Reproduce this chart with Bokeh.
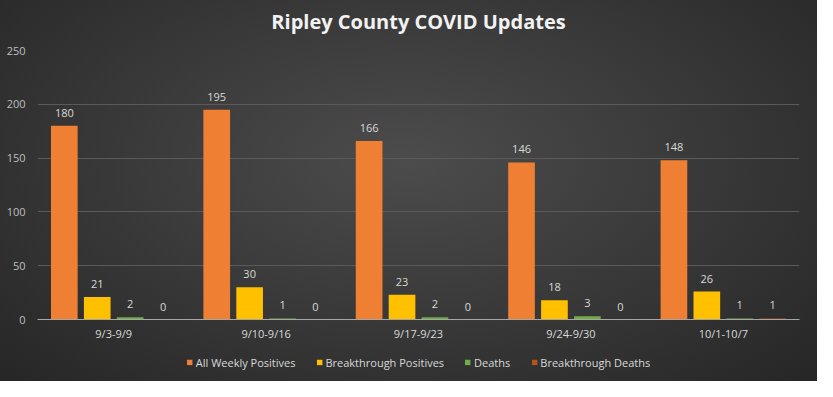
from bokeh.plotting import figure
from bokeh.models import FactorRange, Legend, LegendItem, ColumnDataSource, Range1d, FixedTicker
from bokeh.layouts import column
from bokeh.transform import dodge
from bokeh.core.properties import value
from bokeh.embed import file_html
from bokeh.resources import INLINE

chart_title = "Ripley County COVID Updates"
weeks = ["9/3-9/9", "9/10-9/16", "9/17-9/23", "9/24-9/30", "10/1-10/7"]
all_pos = [180, 195, 166, 146, 148]
bt_pos = [21, 30, 23, 18, 26]
deaths = [2, 1, 2, 3, 1]
bt_deaths = [0, 0, 0, 0, 1]
series_names = ["All Weekly Positives", "Breakthrough Positives", "Deaths", "Breakthrough Deaths"]
y_ticks = [0, 50, 100, 150, 200, 250]

colors = ["#EF7F33", "#FFC000", "#70AD47", "#B4531A"]
offsets = [-0.324, -0.108, 0.108, 0.324]
FONT = "Open Sans"


def strip(height):
    f = figure(x_range=Range1d(0, 1), y_range=Range1d(0, 1), width=817, height=height,
               output_backend="svg", toolbar_location=None,
               min_border_left=0, min_border_right=0, min_border_top=0, min_border_bottom=0)
    f.axis.visible = False
    f.grid.visible = False
    f.background_fill_color = None
    f.border_fill_color = None
    f.outline_line_color = None
    return f


# title strip
t = strip(42)
t.text(x=[0.5], y=[0.5], text=[chart_title], text_align="center", text_baseline="middle",
       text_color="#f2f2f2", text_font=value(FONT), text_font_size="20px",
       text_font_style="bold")

src = ColumnDataSource(dict(week=weeks, s0=all_pos, s1=bt_pos, s2=deaths, s3=bt_deaths,
                            l0=[str(v) for v in all_pos], l1=[str(v) for v in bt_pos],
                            l2=[str(v) for v in deaths], l3=[str(v) for v in bt_deaths]))

p = figure(x_range=FactorRange(*weeks, range_padding=0), y_range=Range1d(0, 250),
           width=817, height=301, output_backend="svg", toolbar_location=None,
           min_border_left=37, min_border_right=18, min_border_top=8, min_border_bottom=22)

p.background_fill_color = None
p.border_fill_color = None
p.outline_line_color = None

for i in range(4):
    p.vbar(x=dodge("week", offsets[i], range=p.x_range), top="s%d" % i, width=0.175,
           source=src, fill_color=colors[i], line_color=None)
    p.text(x=dodge("week", offsets[i], range=p.x_range), y="s%d" % i, text="l%d" % i,
           source=src, text_align="center", text_baseline="bottom", y_offset=-9,
           text_color="#d9d9d9", text_font=value(FONT), text_font_size="11px")

p.yaxis.ticker = FixedTicker(ticks=y_ticks)
p.yaxis.axis_line_color = None
p.yaxis.major_tick_line_color = None
p.yaxis.major_tick_out = 0
p.yaxis.minor_tick_line_color = None
p.yaxis.major_label_text_color = "#bfbfbf"
p.yaxis.major_label_text_font = FONT
p.yaxis.major_label_text_font_size = "11px"
p.yaxis.major_label_standoff = 12

p.xaxis.axis_line_color = "#a6a6a6"
p.xaxis.major_tick_line_color = None
p.xaxis.major_tick_out = 0
p.xaxis.minor_tick_line_color = None
p.xaxis.major_label_text_color = "#d9d9d9"
p.xaxis.major_label_text_font = FONT
p.xaxis.major_label_text_font_size = "11px"
p.xaxis.major_label_standoff = 6

p.xgrid.grid_line_color = None
p.ygrid.grid_line_color = "#5a5a5a"

# legend strip below the chart (proxy glyphs sit outside the visible range)
q = strip(38)
proxy = ColumnDataSource(dict(x=[-10], top=[-10]))
leg_renderers = [q.vbar(x="x", top="top", width=0.1, source=proxy, fill_color=c, line_color=None)
                 for c in colors]
legend = Legend(items=[LegendItem(label=series_names[i], renderers=[leg_renderers[i]]) for i in range(4)],
                orientation="horizontal", location="center",
                background_fill_alpha=0, border_line_alpha=0,
                glyph_width=7, glyph_height=7, label_standoff=3, spacing=20,
                label_text_color="#d9d9d9", label_text_font=FONT, label_text_font_size="11px",
                padding=2, margin=0)
q.add_layout(legend, "center")

layout = column(t, p, q, spacing=0)
layout.styles = {"background": "radial-gradient(ellipse at 50% 42%, #4c4c4c 0%, #3b3b3b 45%, #262626 100%)"}

open("out.html", "w").write(file_html(layout, INLINE))
